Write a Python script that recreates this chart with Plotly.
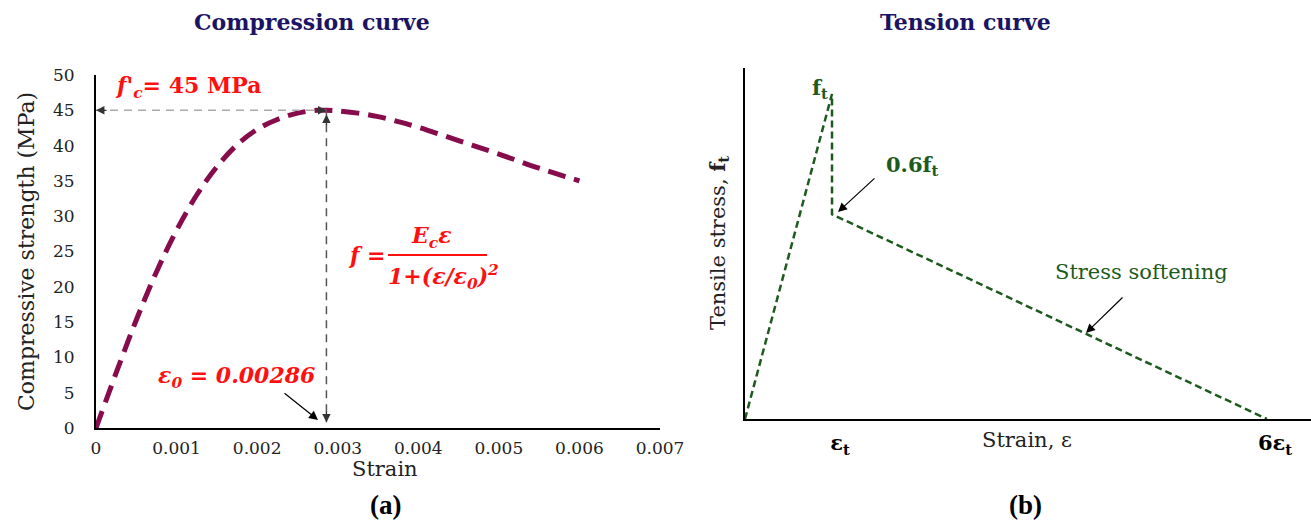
import plotly.graph_objects as go

W, H = 1311, 524

# ---- data: compression curve (strain, MPa) ----
comp_strain = [0, 0.00025, 0.0005, 0.00075, 0.001, 0.00125, 0.0015, 0.00175, 0.002,
               0.00225, 0.0025, 0.00275, 0.00286, 0.003, 0.00325, 0.0035, 0.00375,
               0.004, 0.0045, 0.005, 0.0055, 0.006]
comp_stress = [0, 7.8, 15.3, 22.1, 28.0, 33.0, 37.0, 40.1, 42.3,
               43.7, 44.6, 45.0, 45.0, 44.9, 44.6, 44.1, 43.4,
               42.6, 40.7, 38.8, 36.8, 35.0]
comp_xticks = [0, 0.001, 0.002, 0.003, 0.004, 0.005, 0.006, 0.007]
comp_xtick_text = ["0", "0.001", "0.002", "0.003", "0.004", "0.005", "0.006", "0.007"]
comp_yticks = [0, 5, 10, 15, 20, 25, 30, 35, 40, 45, 50]
fc_peak = 45
eps0 = 0.00286

# ---- data: tension curve (multiples of eps_t, multiples of f_t) ----
ten_strain = [0, 1, 1, 6]
ten_stress = [0, 1, 0.63, 0]
ten_xticks = [1, 6]
ten_xtick_text = ["<b>ε<sub>t</sub></b>", "<b>6ε<sub>t</sub></b>"]

SERIF = "DejaVu Serif"
RED = "#ff1010"
GREEN = "#1d5a1d"
NAVY = "#1b1464"
MAROON = "#870c4c"


def px(x):
    return x / W


def py(y):
    return 1 - y / H


fig = go.Figure()

fig.add_trace(go.Scatter(
    x=comp_strain, y=comp_stress, mode="lines", line_shape="spline",
    line=dict(color=MAROON, width=5, dash="18px,9px"),
    xaxis="x", yaxis="y", showlegend=False, hoverinfo="skip"))

fig.add_trace(go.Scatter(
    x=ten_strain, y=ten_stress, mode="lines",
    line=dict(color=GREEN, width=2.5, dash="7px,4px"),
    xaxis="x2", yaxis="y2", showlegend=False, hoverinfo="skip"))

axis_common = dict(showgrid=False, zeroline=False, showline=True, automargin=False,
                   linecolor="black", linewidth=2, ticks="")

fig.update_layout(
    width=W, height=H, margin=dict(l=0, r=0, t=0, b=0, pad=0, autoexpand=False),
    paper_bgcolor="white", plot_bgcolor="white", showlegend=False,
    font=dict(family=SERIF, color="black"),
    xaxis=dict(domain=[px(96), px(660)], range=[0, 0.007],
               tickvals=comp_xticks, ticktext=comp_xtick_text,
               tickfont=dict(size=17, family=SERIF, color="#222"),
               ticklabelstandoff=4, anchor="y", **axis_common),
    yaxis=dict(domain=[py(428), py(75)], range=[0, 50],
               tickvals=comp_yticks,
               tickfont=dict(size=17, family=SERIF, color="#222"),
               ticklabelstandoff=16, anchor="x", **axis_common),
    xaxis2=dict(domain=[px(745), 1.0], range=[0, 6.506],
                tickvals=ten_xticks, ticktext=ten_xtick_text,
                tickfont=dict(size=21, family=SERIF, color="black"),
                ticklabelstandoff=4, ticklabelshift=8, anchor="y2", **axis_common),
    yaxis2=dict(domain=[py(419), py(67.7)], range=[0, 1.081],
                showticklabels=False, anchor="x2", **axis_common),
)

shapes = []
# horizontal guide at f'c
shapes.append(dict(type="line", xref="x", yref="y", x0=0, x1=eps0, y0=fc_peak, y1=fc_peak,
                   line=dict(color="#aaaaaa", width=1.5, dash="8px,6px")))
# vertical guide at eps0
shapes.append(dict(type="line", xref="x", yref="y", x0=eps0, x1=eps0, y0=fc_peak, y1=0.8,
                   line=dict(color="#555555", width=1.5, dash="8px,6px")))
# fraction bar of formula
shapes.append(dict(type="line", xref="paper", yref="paper", x0=px(388), x1=px(487),
                   y0=py(255), y1=py(255), line=dict(color=RED, width=2)))
fig.update_layout(shapes=shapes)

ann = []


def text(x, y, s, size, color="black", family=SERIF, angle=0, xanchor="center"):
    ann.append(dict(x=px(x), y=py(y), xref="paper", yref="paper", text=s, showarrow=False,
                    font=dict(size=size, color=color, family=family), textangle=angle,
                    xanchor=xanchor, yanchor="middle"))


def arrow(hx, hy, tx, ty, color="black", width=1.2, head=2, size=1.5):
    ann.append(dict(x=px(hx), y=py(hy), xref="paper", yref="paper", text="",
                    showarrow=True, ax=tx - hx, ay=ty - hy, arrowhead=head,
                    arrowsize=size, arrowwidth=width, arrowcolor=color))


def data_head(x, y, dx, dy, xr="x", yr="y"):
    ann.append(dict(x=x, y=y, xref=xr, yref=yr, text="", showarrow=True, ax=dx, ay=dy,
                    arrowhead=2, arrowsize=1.3, arrowwidth=1.3, arrowcolor="#333"))


# titles
text(312, 22, "<b>Compression curve</b>", 22, NAVY)
text(965, 22, "<b>Tension curve</b>", 22, NAVY)
text(385, 505, "<b>(a)</b>", 27, "black", "Liberation Serif")
text(1025, 505, "<b>(b)</b>", 27, "black", "Liberation Serif")

# axis titles
text(26, 252, "Compressive strength (MPa)", 22, "#222", angle=-90)
text(385, 469, "Strain", 21, "#222")
text(718, 243, "Tensile stress, <b>f<sub>t</sub></b>", 21, "#222", angle=-90)
text(1027, 440, "Strain, ε", 21, "#222")

# compression annotations
text(188, 87, "<b><i>f'</i><sub><i>c</i></sub>= 45 MPa</b>", 22, RED)
text(236, 377, "<b><i>ε<sub>0</sub> = 0.00286</i></b>", 22, RED)
text(367, 255, "<b><i>f =</i></b>", 22, RED)
text(431, 237, "<b><i>E<sub>c</sub>ε</i></b>", 22, RED)
text(443, 277, "<b><i>1+(ε/ε<sub>0</sub>)<sup>2</sup></i></b>", 22, RED)
arrow(318, 420, 283, 392)

# guide arrowheads
data_head(0, fc_peak, 12, 0)
data_head(eps0, fc_peak, -12, 0)
data_head(eps0, fc_peak - 0.6, 0, 12)
data_head(eps0, 0.8, 0, -12)

# tension annotations
text(820, 88, "<b>f<sub>t</sub></b>", 21, GREEN)
text(912, 165, "<b>0.6f<sub>t</sub></b>", 21, GREEN)
text(1141, 272, "Stress softening", 21, GREEN)
arrow(838, 212, 876, 177)
arrow(1086, 333, 1124, 296)

fig.update_layout(annotations=ann)

fig.write_html("out.html")
